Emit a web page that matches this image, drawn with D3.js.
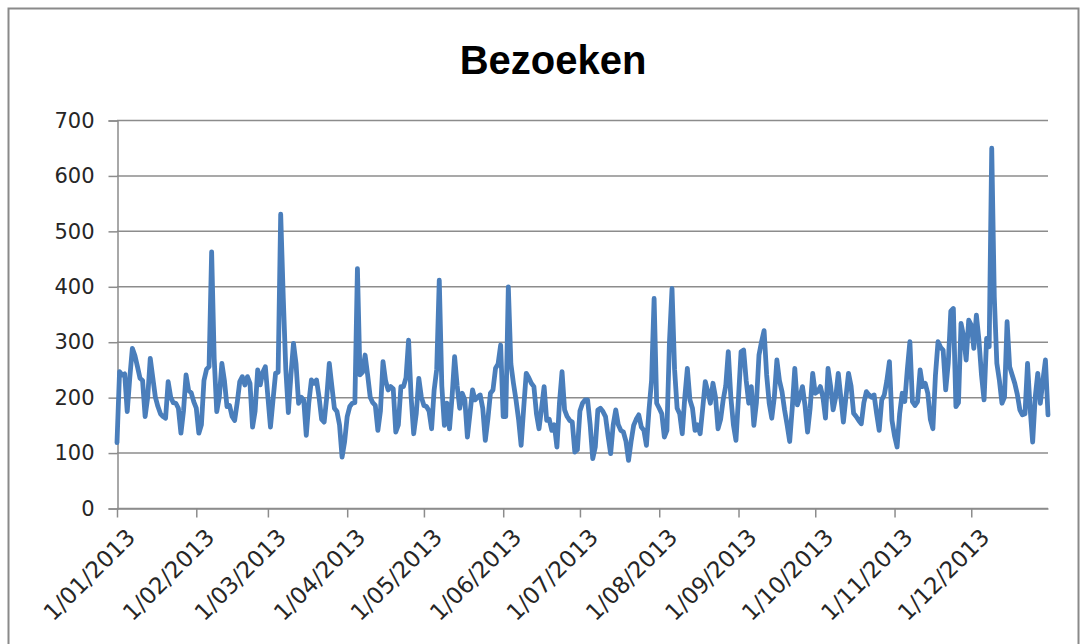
<!DOCTYPE html>
<html>
<head>
<meta charset="utf-8">
<script src="https://cdn.jsdelivr.net/npm/d3@7"></script>
<style>
  body { margin: 0; background: #fff; }
  text { font-family: "Liberation Sans", Arial, sans-serif; }
</style>
</head>
<body>
<div id="chart"></div>
<script>
// daily visits per month, 2013
var jan = [118,246,240,242,174,235,288,275,255,234,230,165,200,270,235,200,183,170,165,162,228,200,190,189,180,135,175,240,212,208,192];
var feb = [180,135,150,230,250,255,462,270,174,200,261,230,183,185,165,158,190,228,237,222,237,225,146,175,249,222,245,255];
var mar = [200,146,195,243,245,530,380,250,172,240,297,260,189,200,195,131,190,231,225,231,200,160,155,200,261,220,180,174,150,92,120];
var apr = [165,183,189,190,432,240,245,276,240,200,190,185,140,175,264,230,213,219,215,137,150,219,219,235,303,200,134,170,234,200];
var may = [185,183,175,143,213,250,411,220,149,189,143,200,273,220,180,207,195,128,170,213,195,200,204,180,122,160,207,213,252,260,294];
var jun = [165,165,399,260,225,195,160,113,180,243,235,225,219,170,143,180,219,158,160,140,150,110,190,246,177,165,158,155,101,105];
var jul = [175,189,195,195,150,89,110,177,180,174,165,130,98,150,177,150,140,137,120,86,120,149,160,168,146,140,113,177,230,378,189];
var aug = [180,170,128,140,300,396,250,180,170,134,200,252,195,180,140,150,134,180,228,210,189,225,200,143,160,195,220,282,200,150,122];
var sep = [200,282,285,230,189,219,149,190,276,300,320,240,189,162,200,267,230,210,177,150,120,180,252,186,200,219,185,137,180,243];
var oct = [207,210,219,200,162,252,220,177,200,243,200,155,200,243,220,171,165,158,152,190,210,204,200,204,170,140,195,204,230,264,158];
var nov = [130,110,170,207,192,250,300,192,185,192,249,219,225,207,160,143,240,300,290,285,213,261,355,360,183,190,333,310,267,339];
var dec = [330,288,348,303,240,195,306,291,649,381,261,230,189,200,336,255,240,225,205,177,168,170,261,180,119,200,243,189,230,267,168];

var yTicks = [0, 100, 200, 300, 400, 500, 600, 700];
var title = "Bezoeken";

function init() {

    var width = 1086;
    var height = 644;
    var margin = { top: 120, right: 38, bottom: 136, left: 117 };

    var visits = [].concat(jan, feb, mar, apr, may, jun, jul, aug, sep, oct, nov, dec);
    var data = visits.map(function (v, i) {
        return { date: new Date(2013, 0, 1 + i), value: v };
    });

    var svg = d3.select("#chart")
        .append("svg")
        .attr("width", width)
        .attr("height", height);

    // chart area border
    svg.append("rect")
        .attr("x", 8.5)
        .attr("y", 8.5)
        .attr("width", 1070)
        .attr("height", 700)
        .attr("fill", "#fff")
        .attr("stroke", "#8a8a8a")
        .attr("stroke-width", 2);

    var x = d3.scaleTime()
        .domain([new Date(2013, 0, 1), new Date(2013, 11, 31)])
        .range([margin.left, width - margin.right]);

    var y = d3.scaleLinear()
        .domain([0, 700])
        .range([height - margin.bottom, margin.top]);

    // gridlines
    svg.append("g")
        .selectAll("line")
        .data(yTicks)
        .enter()
        .append("line")
        .attr("x1", margin.left)
        .attr("x2", width - margin.right)
        .attr("y1", function (d) { return y(d) + 0.5; })
        .attr("y2", function (d) { return y(d) + 0.5; })
        .attr("stroke", "#8c8c8c")
        .attr("stroke-width", 1.5);

    // y axis
    var yAxis = svg.append("g")
        .attr("transform", "translate(" + (margin.left + 0.5) + ",0.5)")
        .call(d3.axisLeft(y).tickValues(yTicks).tickSize(9).tickPadding(14));
    yAxis.select(".domain").attr("stroke", "#8c8c8c").attr("stroke-width", 1.5);
    yAxis.selectAll(".tick line").attr("stroke", "#8c8c8c").attr("stroke-width", 1.5);
    yAxis.selectAll("text")
        .style("font-family", "'DejaVu Sans', sans-serif")
        .style("font-size", "21px")
        .attr("fill", "#262626");

    // x axis
    var months = d3.range(12).map(function (m) { return new Date(2013, m, 1); });
    var xAxis = svg.append("g")
        .attr("transform", "translate(0," + (height - margin.bottom + 0.5) + ")")
        .call(d3.axisBottom(x)
            .tickValues(months)
            .tickFormat(d3.timeFormat("%-d/%m/%Y"))
            .tickSize(9)
            .tickSizeOuter(0));
    xAxis.select(".domain").attr("stroke", "#8c8c8c").attr("stroke-width", 1.5);
    xAxis.selectAll(".tick line").attr("stroke", "#8c8c8c").attr("stroke-width", 1.5);
    xAxis.selectAll("text")
        .style("font-family", "'DejaVu Sans', sans-serif")
        .style("font-size", "23px")
        .attr("fill", "#262626")
        .attr("text-anchor", "end")
        .attr("dy", "0.35em")
        .attr("transform", "translate(5,16) rotate(-45)");

    // line
    var line = d3.line()
        .x(function (d) { return x(d.date); })
        .y(function (d) { return y(d.value); });

    svg.append("path")
        .datum(data)
        .attr("d", line)
        .attr("fill", "none")
        .attr("stroke", "#4a7ebb")
        .attr("stroke-width", 4.8)
        .attr("stroke-linejoin", "round")
        .attr("stroke-linecap", "round");

    // title
    svg.append("text")
        .attr("x", 553)
        .attr("y", 74)
        .attr("text-anchor", "middle")
        .style("font-size", "40px")
        .style("font-weight", "bold")
        .attr("fill", "#000")
        .text(title);
}

window.onload = init;
</script>
</body>
</html>
